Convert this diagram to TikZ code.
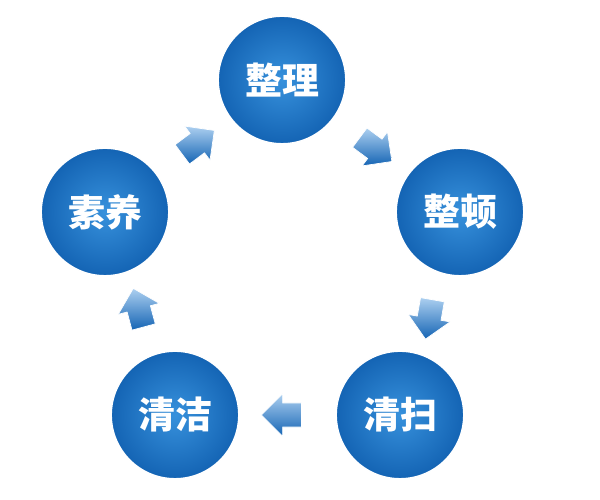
\documentclass[tikz,border=0pt]{standalone}
\usepackage{fontspec}
\setmainfont{Noto Sans CJK SC}
\usetikzlibrary{shapes.arrows,calc}
\definecolor{stepblue}{RGB}{55,145,220}
\definecolor{stepdark}{RGB}{20,100,180}
\definecolor{arrowblue}{RGB}{90,160,225}
\tikzset{
  stage/.style={circle,minimum size=2.55cm,inner sep=0pt,text=white,
    font=\fontsize{21}{24}\selectfont\bfseries,
    inner color=stepblue,outer color=stepdark,draw=white,line width=0.8pt},
  flow/.style={single arrow,minimum height=0.8cm,minimum width=0.85cm,
    single arrow head extend=0.12cm,inner xsep=0pt,inner ysep=0.15cm,
    top color=arrowblue!50!white,bottom color=stepdark,draw=white}
}
\begin{document}
\begin{tikzpicture}
    \useasboundingbox (0,0) rectangle (12,10);
    \node[stage] (zhengli) at (5.64,8.4) {整理} ;
    \node[stage] (zhengdun) at (9.2,5.76) {整顿} ;
    \node[stage] (qingsao) at (8.0,1.7) {清扫} ;
    \node[stage] (qingjie) at (3.5,1.7) {清洁} ;
    \node[stage] (suyang) at (2.1,5.76) {素养} ;

    \node[flow,rotate=36.7] (a1) at ($(suyang)!0.5!(zhengli)$) {} ;
    \node[flow,rotate=-36.6] (a2) at ($(zhengli)!0.5!(zhengdun)$) {} ;
    \node[flow,rotate=-100] (a3) at ($(zhengdun)!0.5!(qingsao)$) {} ;
    \node[flow,rotate=180] (a4) at ($(qingsao)!0.5!(qingjie)$) {} ;
    \node[flow,rotate=105] (a5) at ($(qingjie)!0.5!(suyang)$) {} ;
\end{tikzpicture}
\end{document}
